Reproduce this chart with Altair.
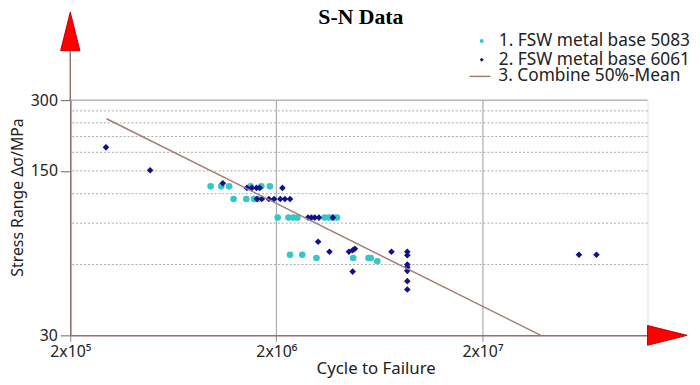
import altair as alt
import pandas as pd

# ---------------- data ----------------
s1 = "1. FSW metal base 5083"
s2 = "2. FSW metal base 6061"
s3 = "3. Combine 50%-Mean"
chart_title = "S-N Data"

x_5083 = [9.6e5, 1.08e6, 1.18e6, 1.50e6, 1.69e6, 1.86e6,
          1.24e6, 1.43e6, 1.56e6, 1.62e6,
          2.03e6, 2.29e6, 2.42e6, 2.53e6, 3.43e6, 3.60e6, 3.76e6, 3.94e6,
          2.33e6, 2.67e6, 3.13e6, 4.72e6, 5.60e6, 5.74e6, 6.18e6]
y_5083 = [129, 129, 129, 129, 129, 129,
          114, 114, 114, 114,
          95, 95, 95, 95, 95, 95, 95, 95,
          66, 66, 64, 64, 64, 64, 62]

x_6061 = [2.98e5, 4.88e5, 1.10e6,
          1.44e6, 1.52e6, 1.60e6, 1.66e6, 2.14e6,
          1.61e6, 1.70e6, 1.84e6, 1.95e6, 2.09e6, 2.20e6, 2.33e6,
          2.85e6, 2.96e6, 3.07e6, 3.22e6, 3.76e6,
          3.19e6, 3.62e6, 4.50e6, 4.69e6, 4.81e6, 4.69e6, 7.24e6,
          8.64e6, 8.64e6, 8.64e6, 8.64e6, 8.64e6, 8.64e6, 8.64e6,
          5.88e7, 7.15e7]
y_6061 = [189, 151, 133,
          127, 127, 127, 127, 127,
          114, 114, 114, 114, 114, 114, 114,
          95, 95, 95, 95, 95,
          75, 68, 68, 69, 70, 56, 68,
          68, 65.7, 60, 58.5, 56.4, 51, 47,
          66, 66]

mean_x = [3.0e5, 3.84e7]
mean_y = [250, 30]

x_domain = [2e5, 1.265e8]
y_domain = [30, 300]
x_ticks = [2e5, 2e6, 2e7]
x_tick_labels = ["2x10\u2075", "2x10\u2076", "2x10\u2077"]
y_ticks = [30, 150, 300]
y_grid_dashed = [60, 90, 120, 150, 180, 210, 240, 270]
y_grid_solid = [300]

# ---------------- styling ----------------
CYAN = "#35C6C6"
NAVY = "#11118E"
BROWN = "#A27A72"
AXIS_BROWN = "#977070"
FONT = "Noto Sans"

pts = pd.concat([
    pd.DataFrame({"cycles": x_5083, "stress": y_5083, "series": s1}),
    pd.DataFrame({"cycles": x_6061, "stress": y_6061, "series": s2}),
], ignore_index=True)
mean_df = pd.DataFrame({"cycles": mean_x, "stress": mean_y, "series": s3})
grid_d = pd.DataFrame({"stress": y_grid_dashed})
grid_s = pd.DataFrame({"stress": y_grid_solid})
one = pd.DataFrame({"label": [chart_title]})

label_expr = ""
for v, t in zip(x_ticks, x_tick_labels):
    label_expr += f"datum.value == {v:.0f} ? '{t}' : "
label_expr += "''"

xscale = alt.Scale(type="log", domain=x_domain, nice=False)
yscale = alt.Scale(type="log", domain=y_domain, nice=False)

x_axis = alt.Axis(values=x_ticks, labelExpr=label_expr, grid=True, gridColor="#9c9c9c",
                  gridWidth=1, domainColor=AXIS_BROWN, domainWidth=1.5, tickColor="#888",
                  tickSize=6, labelPadding=2, labelFont=FONT, labelFontSize=16,
                  labelColor="#222", labelFlush=False, title="Cycle to Failure",
                  titleFont=FONT, titleFontSize=17, titleFontWeight="normal",
                  titleColor="#222", titleX=309, titleY=34, titleAlign="center",
                  titleBaseline="middle")
y_axis = alt.Axis(values=y_ticks, grid=False, domainColor=AXIS_BROWN, domainWidth=1.5,
                  tickColor="#666", tickSize=10, labelPadding=3, labelFont=FONT,
                  labelFontSize=16, labelColor="#222", labelFlush=False,
                  title="Stress Range \u0394\u03c3/MPa", titleFont=FONT, titleFontSize=16,
                  titleFontWeight="normal", titleColor="#222", titleX=-53, titleY=98,
                  titleAngle=-90, titleAlign="center", titleBaseline="middle")

X = alt.X("cycles:Q", scale=xscale, axis=x_axis)
Y = alt.Y("stress:Q", scale=yscale, axis=y_axis)

dashed = alt.Chart(grid_d).mark_rule(color="#a8a8a8", strokeDash=[2, 2], strokeWidth=1).encode(
    y=alt.Y("stress:Q", scale=yscale, axis=y_axis))
solid = alt.Chart(grid_s).mark_rule(color="#9c9c9c", strokeWidth=1).encode(
    y=alt.Y("stress:Q", scale=yscale, axis=y_axis))

leg1 = alt.Legend(title=None, orient="none", legendX=407.5, legendY=-68.5, symbolSize=16,
                  labelFont=FONT, labelFontSize=17.5, labelColor="#222", rowPadding=0,
                  padding=0, labelOffset=8.5, symbolStrokeWidth=0, labelLimit=400)
points = alt.Chart(pts).mark_point(filled=True, size=45, opacity=1).encode(
    x=X, y=Y,
    color=alt.Color("series:N", scale=alt.Scale(domain=[s1, s2], range=[CYAN, NAVY]), legend=leg1),
    shape=alt.Shape("series:N", scale=alt.Scale(domain=[s1, s2], range=["circle", "diamond"]), legend=leg1),
)

leg2 = alt.Legend(title=None, orient="none", legendX=403, legendY=-35.5, symbolType="stroke",
                  symbolSize=441, symbolStrokeWidth=1.5, labelFont=FONT, labelFontSize=17.5,
                  labelColor="#222", padding=0, labelOffset=7, labelLimit=400)
mean_line = alt.Chart(mean_df).mark_line(strokeWidth=1.5).encode(
    x=X, y=Y,
    color=alt.Color("series:N", scale=alt.Scale(domain=[s3], range=[BROWN]), legend=leg2),
)

# chart title as text placed above the plot area
title_txt = alt.Chart(one).mark_text(font="Liberation Serif", fontSize=22, fontWeight="bold",
                                     color="#000", align="center", baseline="alphabetic").encode(
    x=alt.value(294), y=alt.value(-77), text="label:N")

# axis extension and arrow heads (decoration)
y_ext = alt.Chart(one).mark_rule(color=AXIS_BROWN, strokeWidth=1.5).encode(
    x=alt.value(0), y=alt.value(0), y2=alt.value(-50))
up_arrow = alt.Chart(one).mark_point(shape="M0,-2L0.5,0L-0.5,0Z", size=1521, filled=True,
                                     fill="#FF0000", stroke="#C00000", strokeWidth=1,
                                     opacity=1).encode(x=alt.value(0), y=alt.value(-50))
right_arrow = alt.Chart(one).mark_point(shape="M0,-0.5L2,0L0,0.5Z", size=1600, filled=True,
                                        fill="#FF0000", stroke="#C00000", strokeWidth=1,
                                        opacity=1).encode(x=alt.value(584), y=alt.value(238))

chart = alt.layer(dashed, solid, points, mean_line, title_txt, y_ext, up_arrow, right_arrow).resolve_scale(
    color="independent", shape="independent"
).properties(
    width=584, height=238,
    autosize=alt.AutoSizeParams(type="none"),
    padding={"left": 63, "top": 91, "right": 45, "bottom": 46},
).configure_view(stroke=None).configure(background="white")

chart.save("out.html", embed_options={"renderer": "svg", "actions": False})
